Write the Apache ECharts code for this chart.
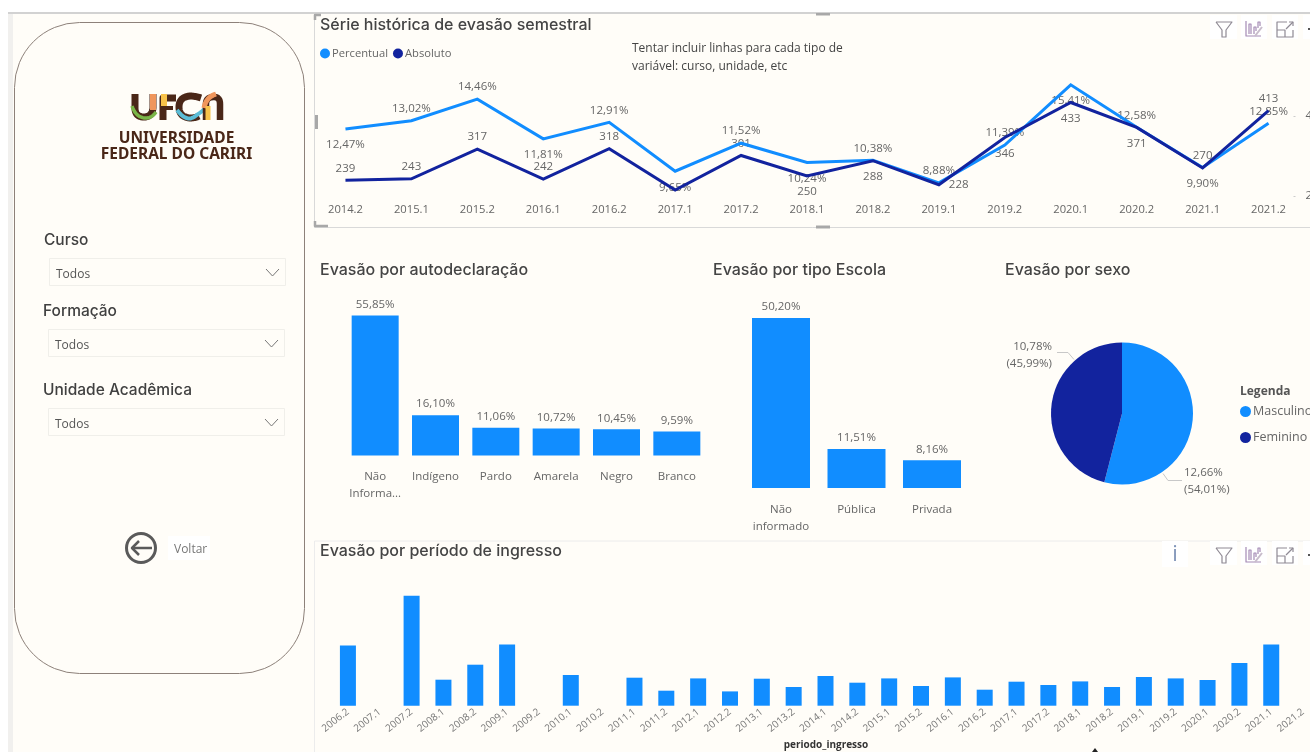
<!DOCTYPE html>
<html><head><meta charset="utf-8">
<style>html,body{margin:0;padding:0;background:#fffdf8;overflow:hidden}#c{width:1310px;height:752px}</style>
<script src="https://cdn.jsdelivr.net/npm/echarts@6/dist/echarts.min.js"></script>
</head><body><div id="c"></div>
<script>
// ---- data ----
const semestres = ['2014.2','2015.1','2015.2','2016.1','2016.2','2017.1','2017.2','2018.1','2018.2','2019.1','2019.2','2020.1','2020.2','2021.1','2021.2'];
const percentual = [12.47,13.02,14.46,11.81,12.91,9.65,11.52,10.24,10.38,8.88,11.39,15.41,12.58,9.90,12.85];
const absoluto = [239,243,317,242,318,215,301,250,288,228,346,433,371,270,413];
const percentualLabelSide = ['bottom','top','top','bottom','top','bottom','top','bottom','top','top','top','bottom','top','bottom','top'];
const absolutoLabelSide = ['top','top','top','top','top',null,'top','bottom','bottom','right','bottom','bottom','bottom','top','top'];
const autodeclCats = ['Não\nInforma...','Indígeno','Pardo','Amarela','Negro','Branco'];
const autodeclVals = [55.85,16.10,11.06,10.72,10.45,9.59];
const escolaCats = ['Não\ninformado','Pública','Privada'];
const escolaVals = [50.20,11.51,8.16];
const sexoNames = ['Masculino','Feminino'];
const sexoVals = [12.66,10.78];
const sexoShare = [54.01,45.99];
const ingressoCats = ['2006.2','2007.1','2007.2','2008.1','2008.2','2009.1','2009.2','2010.1','2010.2','2011.1','2011.2','2012.1','2012.2','2013.1','2013.2','2014.1','2014.2','2015.1','2015.2','2016.1','2016.2','2017.1','2017.2','2018.1','2018.2','2019.1','2019.2','2020.1','2020.2','2021.1','2021.2'];
const ingressoVals = [60.3,null,110,26,41,61.3,null,30.7,null,28,15,27.3,14.3,27,18.7,29.7,23,27.3,19.7,28.3,16,24,20.7,24.3,18.7,28.7,27.3,25.7,42.7,61.3,null];

// ---- style ----
const BLUE='#118DFF', NAVY='#12239E', BG='#FFFDF8', LBL='#666666', TTL='#444444';
const FONT='"Open Sans","Noto Sans",sans-serif', TFONT='Inter,Roboto,sans-serif';
const pct=v=>v.toFixed(2).replace('.',',')+'%';
const PIE={cx:1122,cy:413.5,r:71};

const txt=(text,x,y,size,color,extra)=>({type:'text',x,y:y+2,silent:true,style:Object.assign({text,fill:color,font:`${size}px ${FONT}`,textVerticalAlign:'middle'},extra||{})});
const rect=(x,y,w,h,fill,stroke,r)=>({type:'rect',silent:true,shape:{x,y,width:w,height:h,r:r||0},style:{fill:fill||'none',stroke:stroke||'none',lineWidth:1}});
// small drawing helper: turns M/L/H/V/Q/Z strokes into polylines (the graphic component has no path element)
function path(d,stroke,lw){
  const toks=d.match(/[MLHVQZ]|-?[\d.]+/g); let i=0,cx=0,cy=0,sx=0,sy=0,cur=null; const lines=[];
  const n=()=>parseFloat(toks[i++]);
  while(i<toks.length){
    const c=toks[i++];
    if(c==='M'){cx=n();cy=n();sx=cx;sy=cy;cur=[[cx,cy]];lines.push(cur);}
    else if(c==='L'){cx=n();cy=n();cur.push([cx,cy]);}
    else if(c==='H'){cx=n();cur.push([cx,cy]);}
    else if(c==='V'){cy=n();cur.push([cx,cy]);}
    else if(c==='Z'){cur.push([sx,sy]);cx=sx;cy=sy;}
    else if(c==='Q'){const qx=n(),qy=n(),ex=n(),ey=n();for(let t=1;t<=12;t++){const u=t/12,a=(1-u)*(1-u),b=2*u*(1-u),e=u*u;cur.push([a*cx+b*qx+e*ex,a*cy+b*qy+e*ey]);}cx=ex;cy=ey;}
  }
  return lines.map(points=>({type:'polyline',silent:true,shape:{points},style:{fill:'none',stroke,lineWidth:lw||1,lineJoin:'round'}}));
}

function icons(x0,y0){
  const s='#8f8a94', p='#a58bb5';
  return [
    rect(x0-14,y0-14,27,24,'#fff'), rect(x0+17,y0-14,26,24,'#fff'), rect(x0+48,y0-14,26,24,'#fff'), rect(x0+79,y0-14,8,24,'#fff'),
    ...path(`M${x0-8} ${y0-7}H${x0+8}L${x0+2} ${y0+1}V${y0+8}H${x0-2}V${y0+1}Z`,s,1.2),
    ...path(`M${x0+22} ${y0-8}V${y0+7}H${x0+37}M${x0+25} ${y0+5}V${y0-5}H${x0+27}V${y0+5}M${x0+30} ${y0+5}V${y0-2}H${x0+32}V${y0+2}M${x0+34} ${y0-1}V${y0-7}H${x0+36}V${y0-3}`,p,1.2),
    ...path(`M${x0+31} ${y0+7}L${x0+38} ${y0-2}`,'#c8bccb',2),
    ...path(`M${x0+63} ${y0-7}H${x0+53}V${y0+8}H${x0+69}V${y0+1}M${x0+53} ${y0+1}H${x0+61}V${y0+8}M${x0+62} ${y0}L${x0+69} ${y0-7}M${x0+65} ${y0-7}H${x0+69}V${y0-3}`,s,1.2),
    rect(x0+84,y0-1,2,2,'#555')
  ];
}
function slicer(title,yT,boxX,boxY){
  return [
    txt(title,boxX-5,yT,15.5,'#404040',{font:`500 15.5px ${TFONT}`}),
    rect(boxX+.5,boxY+.5,236,27,BG,'#f0efea'),
    txt('Todos',boxX+7,boxY+15,12,'#555'),
    ...path(`M${boxX+217} ${boxY+11}L${boxX+223.5} ${boxY+18}L${boxX+230} ${boxY+11}`,'#777',1)
  ];
}
const B='#4a2718';
const graphics=[
  rect(0,0,1310,13,'#fff'), rect(0,0,8,752,'#fff'), rect(8,13,5,739,'#f1f0ee'), rect(8,12,1302,2,'#d2d2d2'),
  // painel lateral
  rect(14.5,22.5,290,651,BG,'#8d817a',65),
  // logotipo
  ...path('M135 94V108Q135 117 144 117Q152 117 153 108V94',B,7),
  ...path('M132 106Q136 118 146 118Q152 118 156 112','#7ab648',3.5),
  ...path('M153 94V110','#f0965c',6),
  ...path('M163 120V98H176',B,7),
  ...path('M164 94V106','#f7c24a',6),
  ...path('M163 108H173',B,4),
  ...path('M201 98Q195 96 190 96Q179 97 179 107Q179 117 190 118Q195 118 199 116',B,7),
  ...path('M177 110Q186 122 194 117Q200 113 206 108','#5bbcd6',4),
  ...path('M206 120V104Q206 97 214 97Q220 97 220 104V120',B,6.5),
  ...path('M204 108Q206 97 216 94','#f0965c',5),
  ...path('M208 106V120','#f7c24a',5),
  txt('UNIVERSIDADE',176.5,136.5,15.5,B,{font:`bold 15.5px "Noto Sans",sans-serif`,textAlign:'center'}),
  txt('FEDERAL DO CARIRI',176.5,153,15.5,B,{font:`bold 15.5px "Noto Sans",sans-serif`,textAlign:'center'}),
  ...slicer('Curso',238,49,258), ...slicer('Formação',309,48,329), ...slicer('Unidade Acadêmica',388,48,408),
  // voltar
  {type:'circle',silent:true,shape:{cx:141,cy:548,r:14.5},style:{fill:'none',stroke:'#5a5a5a',lineWidth:3}},
  ...path('M152 548H132M139 541L132 548L139 555','#5a5a5a',2.5),
  rect(168,536,42,24,'#fff'),
  txt('Voltar',174,548,12,'#777'),
  // moldura série histórica
  ...path('M314.5 14V227.5H1310','#d9d9d9',1),
  ...path('M315 20V15H321','#a8a8a8',2.5), ...path('M315 221V226H328','#a8a8a8',2.5),
  rect(315,115,3,14,'#a8a8a8'), rect(816,225.5,14,3,'#a8a8a8'), rect(816,13,14,2.5,'#a8a8a8'),
  txt('Tentar incluir linhas para cada tipo de',632,47,12,'#444'),
  txt('variável: curso, unidade, etc',632,65,12,'#444'),
  // moldura ingresso
  ...path('M314.5 752V541H1310','#ececec',1),
  ...icons(1224,29), ...icons(1224,555),
  rect(1162,541,26,26,'#fff'), txt('i',1175,553,22,'#7f94b8',{textAlign:'center'}),
  txt('Legenda',1240,390,12,'#555',{font:`bold 12px ${FONT}`}),
  txt('periodo_ingresso',826,743,10,'#333',{textAlign:'center',font:`bold 10px ${FONT}`}),
  {type:'polygon',silent:true,shape:{points:[[1095,748],[1098,752],[1092,752]]},style:{fill:'#222'}}
];

const title=(text,left,top)=>({text,left,top,padding:0,textStyle:{fontFamily:TFONT,fontSize:16,fontWeight:500,color:TTL}});
const barLabel={show:true,position:'top',distance:5,color:LBL,fontFamily:FONT,fontSize:11.5,formatter:p=>pct(p.value)};
const catAxis=(gridIndex,data,extra)=>Object.assign({type:'category',gridIndex,data,axisLine:{show:false},axisTick:{show:false},
  axisLabel:{interval:0,color:LBL,fontFamily:FONT,fontSize:11.5,margin:13,lineHeight:17}},extra||{});
const hiddenVal=(gridIndex,min,max,extra)=>Object.assign({type:'value',gridIndex,min,max,show:false,splitLine:{show:false}},extra||{});
const sideLabel=side=>{
  if(!side) return {show:false};
  if(side==='right') return {position:'right',distance:10,offset:[0,2]};
  return {position:side,distance:side==='bottom'?10:6};
};
const carrier=(name,vals,sides,yIdx,fmt)=>({name,type:'line',xAxisIndex:0,yAxisIndex:yIdx,z:1,silent:true,
  symbol:'circle',symbolSize:0.01,itemStyle:{color:'transparent'},lineStyle:{opacity:0},
  label:{show:true,color:LBL,fontFamily:FONT,fontSize:11.5,formatter:p=>fmt(p.value)},
  labelLayout:{hideOverlap:false},
  data:vals.map((v,i)=>({value:v,label:sideLabel(sides[i])}))});

const option={
  animation:false,backgroundColor:BG,
  title:[title('Série histórica de evasão semestral',320,17),title('Evasão por autodeclaração',320,262),title('Evasão por tipo Escola',713,262),title('Evasão por sexo',1005,262),title('Evasão por período de ingresso',320,543)],
  legend:[
    {data:['Percentual','Absoluto'],left:320,top:48,icon:'circle',itemWidth:10,itemHeight:10,itemGap:5,padding:0,selectedMode:false,textStyle:{color:LBL,fontFamily:FONT,fontSize:11.2,padding:[0,0,0,-3]}},
    {data:sexoNames,left:1240,top:405,orient:'vertical',icon:'circle',itemWidth:11,itemHeight:11,itemGap:13,padding:0,selectedMode:false,textStyle:{color:LBL,fontFamily:FONT,fontSize:12.5,padding:[0,0,0,-3]}}
  ],
  grid:[
    {left:312.5,width:989,top:35.5,height:160.5,outerBoundsMode:'none'},
    {left:345,width:362,top:315.1,height:140.4,outerBoundsMode:'none'},
    {left:743.25,width:226.5,top:318,height:170,outerBoundsMode:'none'},
    {left:332,width:987,top:595.7,height:110,outerBoundsMode:'none'}
  ],
  xAxis:[
    catAxis(0,semestres,{axisLabel:{interval:0,color:LBL,fontFamily:FONT,fontSize:11.2,margin:8}}),
    catAxis(1,autodeclCats),
    catAxis(2,escolaCats),
    catAxis(3,ingressoCats,{axisLabel:{interval:0,rotate:38,color:'#777',fontFamily:FONT,fontSize:10,margin:5}})
  ],
  yAxis:[
    hiddenVal(0,8,18.7),
    {type:'value',gridIndex:0,position:'right',offset:-8,min:200,max:600,interval:200,splitLine:{show:false},axisLine:{show:false},
      axisTick:{show:true,length:2,lineStyle:{color:'#ccc'}},axisLabel:{color:LBL,fontFamily:FONT,fontSize:11.5,margin:12,showMaxLabel:false,verticalAlign:'middle'}},
    hiddenVal(1,0,56),
    hiddenVal(2,0,50.2),
    hiddenVal(3,0,110)
  ],
  series:[
    carrier('rotulosPercentual',percentual,percentualLabelSide,0,pct),
    carrier('rotulosAbsoluto',absoluto,absolutoLabelSide,1,v=>String(v)),
    {name:'Percentual',type:'line',xAxisIndex:0,yAxisIndex:0,z:3,data:percentual,showSymbol:false,color:BLUE,lineStyle:{width:3,color:BLUE,join:'miter'}},
    {name:'Absoluto',type:'line',xAxisIndex:0,yAxisIndex:1,z:4,data:absoluto,showSymbol:false,color:NAVY,lineStyle:{width:3,color:NAVY,join:'miter'}},
    {type:'bar',xAxisIndex:1,yAxisIndex:2,data:autodeclVals,barWidth:47,itemStyle:{color:BLUE},label:barLabel},
    {type:'bar',xAxisIndex:2,yAxisIndex:3,data:escolaVals,barWidth:58,itemStyle:{color:BLUE},label:barLabel},
    {type:'bar',xAxisIndex:3,yAxisIndex:4,data:ingressoVals,barWidth:16,itemStyle:{color:BLUE}},
    {type:'pie',center:[PIE.cx,PIE.cy],radius:[0,PIE.r],startAngle:90,clockwise:true,
      data:sexoNames.map((name,i)=>({name,value:sexoVals[i],itemStyle:{color:i?NAVY:BLUE}})),
      label:{show:true,color:LBL,fontFamily:FONT,fontSize:11.5,lineHeight:17,
        formatter:p=>`${pct(p.value)}\n(${pct(sexoShare[p.dataIndex])})`},
      labelLine:{show:true,lineStyle:{color:'#c8c8c8',width:1}},
      labelLayout:p=>p.dataIndex===0
        ?{x:PIE.cx+62,y:PIE.cy+68,align:'left',verticalAlign:'middle',labelLinePoints:[[PIE.cx+41,PIE.cy+60],[PIE.cx+46,PIE.cy+67],[PIE.cx+60,PIE.cy+67]]}
        :{x:PIE.cx-70,y:PIE.cy-58.5,align:'right',verticalAlign:'middle',labelLinePoints:[[PIE.cx-48,PIE.cy-54],[PIE.cx-54,PIE.cy-61],[PIE.cx-65,PIE.cy-61]]}
    }
  ],
  graphic:{elements:graphics}
};
echarts.init(document.getElementById('c'),null,{renderer:'canvas'}).setOption(option);
</script></body></html>
